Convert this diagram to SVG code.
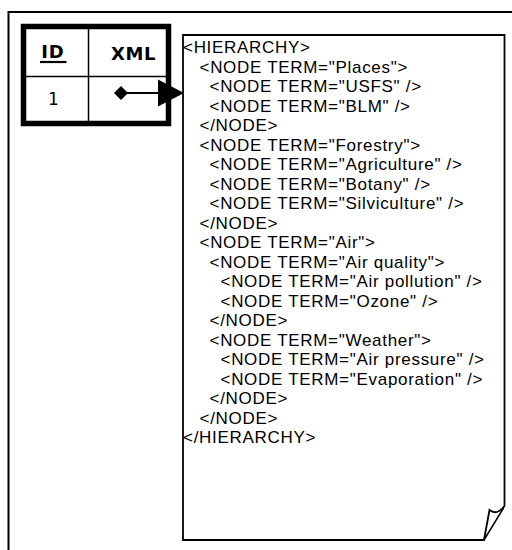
<svg xmlns="http://www.w3.org/2000/svg" width="512" height="550" viewBox="0 0 512 550">
<style>
.frame{fill:none;stroke:#000;stroke-width:2}
.tbl{fill:#fff;stroke:#000;stroke-width:5.5}
.thin{stroke:#000;stroke-width:1.5;fill:none}
.doc{fill:#fff;stroke:#000;stroke-width:1.8;stroke-linejoin:miter}
.hdr{font-family:"DejaVu Sans",sans-serif;font-weight:bold;font-size:18px;fill:#000}
.cell{font-family:"DejaVu Sans",sans-serif;font-size:17px;fill:#000}
.xml{font-family:"Liberation Sans",Arial,sans-serif;font-size:17px;letter-spacing:0.7px;fill:#000}
</style>
<rect class="frame" x="8.5" y="12" width="600" height="600"/>
<g id="table">
<rect class="tbl" x="23.5" y="26.5" width="145" height="97"/>
<line class="thin" x1="26" y1="76.5" x2="166" y2="76.5"/>
<line class="thin" x1="88.5" y1="29" x2="88.5" y2="121"/>
<text class="hdr" x="53" y="58" text-anchor="middle" letter-spacing="1">ID</text>
<line x1="40" y1="62" x2="66.5" y2="62" stroke="#000" stroke-width="2.2"/>
<text class="hdr" x="133.5" y="60" text-anchor="middle" letter-spacing="0.5">XML</text>
<text class="cell" x="53.5" y="105" text-anchor="middle">1</text>
</g>
<g id="document">
<path class="doc" d="M183,35 H504.5 V506 Q497,516 489.5,510 L484,540 H183 Z"/>
<path class="thin" d="M503.5,508 L484,540"/>
<g class="xml">
<text x="183" y="53">&lt;HIERARCHY&gt;</text>
<text x="199.5" y="72.5">&lt;NODE TERM="Places"&gt;</text>
<text x="209.5" y="92">&lt;NODE TERM="USFS" /&gt;</text>
<text x="209.5" y="111.5">&lt;NODE TERM="BLM" /&gt;</text>
<text x="199.5" y="131">&lt;/NODE&gt;</text>
<text x="199.5" y="150.5">&lt;NODE TERM="Forestry"&gt;</text>
<text x="209.5" y="170">&lt;NODE TERM="Agriculture" /&gt;</text>
<text x="209.5" y="189.5">&lt;NODE TERM="Botany" /&gt;</text>
<text x="209.5" y="209">&lt;NODE TERM="Silviculture" /&gt;</text>
<text x="199.5" y="228.5">&lt;/NODE&gt;</text>
<text x="199.5" y="248">&lt;NODE TERM="Air"&gt;</text>
<text x="209.5" y="267.5">&lt;NODE TERM="Air quality"&gt;</text>
<text x="220.5" y="287">&lt;NODE TERM="Air pollution" /&gt;</text>
<text x="220.5" y="306.5">&lt;NODE TERM="Ozone" /&gt;</text>
<text x="209.5" y="326">&lt;/NODE&gt;</text>
<text x="209.5" y="345.5">&lt;NODE TERM="Weather"&gt;</text>
<text x="220.5" y="365">&lt;NODE TERM="Air pressure" /&gt;</text>
<text x="220.5" y="384.5">&lt;NODE TERM="Evaporation" /&gt;</text>
<text x="209.5" y="404">&lt;/NODE&gt;</text>
<text x="199.5" y="423.5">&lt;/NODE&gt;</text>
<text x="183" y="443">&lt;/HIERARCHY&gt;</text>
</g>
</g>
<g id="connectors">
<line x1="121" y1="93" x2="160" y2="93" stroke="#000" stroke-width="2"/>
<polygon points="121,86 128,93 121,100 114,93" fill="#000"/>
<polygon points="158,79.5 184,93 158,106.5" fill="#000"/>
</g>
</svg>
